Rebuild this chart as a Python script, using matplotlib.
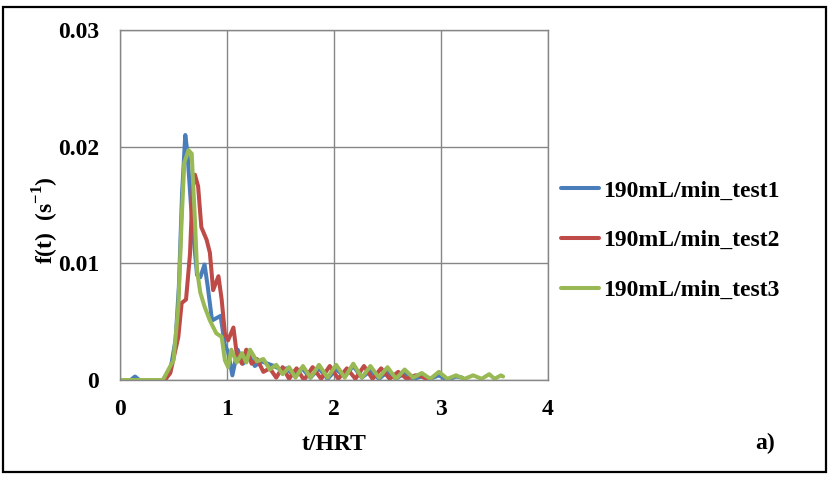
import matplotlib
matplotlib.use("Agg")
import matplotlib.pyplot as plt
from matplotlib.patches import Rectangle

# residence time distribution, three repeat tests at 190 mL/min
t_test1 = [0.00, 0.10, 0.14, 0.18, 0.30, 0.42, 0.47, 0.52, 0.55, 0.58, 0.61, 0.63,
           0.67, 0.72, 0.75, 0.79, 0.82, 0.86, 0.90, 0.94, 0.98, 1.01, 1.05, 1.10,
           1.15, 1.20, 1.26, 1.32, 1.38, 1.44, 1.50, 1.56, 1.62, 1.70, 1.78, 1.86,
           1.94, 2.02, 2.10, 2.18, 2.26, 2.34, 2.42, 2.50, 2.58, 2.66, 2.74, 2.82,
           2.90, 2.98, 3.06, 3.14, 3.20]
f_test1 = [0.0, 0.0, 0.0003, 0.0, 0.0, 0.0, 0.0008, 0.0035, 0.0080, 0.0160, 0.0210, 0.0195,
           0.0140, 0.0090, 0.0088, 0.0099, 0.0080, 0.0051, 0.0053, 0.0055, 0.0030, 0.0024, 0.0004, 0.0026,
           0.0014, 0.0022, 0.0012, 0.0016, 0.0014, 0.0012, 0.0009, 0.0010, 0.0004, 0.0010, 0.0002, 0.0010,
           0.0001, 0.0009, 0.0003, 0.0012, 0.0002, 0.0008, 0.0001, 0.0007, 0.0001, 0.0006, 0.0001, 0.0003,
           0.0001, 0.0004, 0.0000, 0.0003, 0.0002]

t_test2 = [0.00, 0.20, 0.42, 0.47, 0.545, 0.576, 0.617, 0.654, 0.68, 0.70, 0.73, 0.76,
           0.81, 0.84, 0.87, 0.92, 0.95, 0.98, 1.01, 1.06, 1.09, 1.14, 1.18, 1.23,
           1.28, 1.34, 1.40, 1.46, 1.52, 1.58, 1.65, 1.72, 1.80, 1.88, 1.96, 2.04,
           2.12, 2.20, 2.28, 2.36, 2.44, 2.52, 2.60, 2.68, 2.76, 2.80, 2.86, 2.90]
f_test2 = [0.0, 0.0, 0.0, 0.0006, 0.0037, 0.0066, 0.0069, 0.0108, 0.0166, 0.0176, 0.0166, 0.0131,
           0.0120, 0.0109, 0.0077, 0.0089, 0.0069, 0.0040, 0.0034, 0.0045, 0.0023, 0.0014, 0.0026, 0.0014,
           0.0018, 0.0007, 0.0010, 0.0002, 0.0011, 0.0001, 0.0010, 0.0000, 0.0011, 0.0001, 0.0012, 0.0001,
           0.0010, 0.0001, 0.0012, 0.0001, 0.0010, 0.0001, 0.0007, 0.0001, 0.0004, 0.0004, 0.0001, 0.0000]

t_test3 = [0.00, 0.20, 0.40, 0.50, 0.545, 0.576, 0.60, 0.64, 0.67, 0.70, 0.72, 0.75,
           0.79, 0.84, 0.90, 0.95, 0.98, 1.01, 1.04, 1.09, 1.14, 1.18, 1.215, 1.28,
           1.34, 1.40, 1.46, 1.52, 1.58, 1.64, 1.71, 1.78, 1.86, 1.94, 2.02, 2.10,
           2.18, 2.26, 2.34, 2.42, 2.50, 2.58, 2.66, 2.74, 2.82, 2.90, 2.98, 3.06,
           3.14, 3.22, 3.30, 3.38, 3.45, 3.50, 3.56, 3.58]
f_test3 = [0.0, 0.0, 0.0, 0.0017, 0.0063, 0.0137, 0.0186, 0.0197, 0.0194, 0.0137, 0.0094, 0.0075,
           0.0063, 0.0051, 0.0040, 0.0037, 0.0017, 0.0011, 0.0026, 0.0015, 0.0023, 0.0015, 0.0026, 0.0016,
           0.0018, 0.0009, 0.0013, 0.0005, 0.0011, 0.0002, 0.0012, 0.0002, 0.0013, 0.0002, 0.0013, 0.0002,
           0.0014, 0.0002, 0.0012, 0.0002, 0.0011, 0.0001, 0.0009, 0.0002, 0.0006, 0.0001, 0.0007, 0.0001,
           0.0004, 0.0001, 0.0004, 0.0001, 0.0005, 0.0001, 0.0004, 0.0003]

series = [
    (t_test1, f_test1, "190mL/min_test1", "#4A7EBB"),
    (t_test2, f_test2, "190mL/min_test2", "#BE4B48"),
    (t_test3, f_test3, "190mL/min_test3", "#98B954"),
]

plt.rcParams["font.family"] = ["Liberation Serif", "DejaVu Serif"]
plt.rcParams["font.weight"] = "bold"
plt.rcParams["mathtext.fontset"] = "custom"
plt.rcParams["mathtext.rm"] = "Liberation Serif:bold"
plt.rcParams["mathtext.bf"] = "Liberation Serif:bold"

fs = 17

fig = plt.figure(figsize=(8.34, 4.80), dpi=100)
ax = fig.add_axes([0.1439, 0.2083, 0.5132, 0.7292])

for t, f, name, color in series:
    ax.plot(t, f, color=color, lw=2.9, label=name,
            solid_joinstyle="round", solid_capstyle="round")

ax.set_xlim(0, 4)
ax.set_ylim(0, 0.03)
ax.set_xticks([0, 1, 2, 3, 4])
ax.set_yticks([0, 0.01, 0.02, 0.03])
ax.set_yticklabels(["0", "0.01", "0.02", "0.03"])
ax.tick_params(axis="y", length=0, labelsize=fs, pad=15)
ax.tick_params(axis="x", length=0, labelsize=fs, pad=14)
ax.grid(True, color="#868686", lw=1)
ax.set_axisbelow(True)
for sp in ax.spines.values():
    sp.set_color("#868686")
    sp.set_linewidth(1)

ax.set_xlabel("t/HRT", fontsize=fs, fontweight="bold", labelpad=10)
ax.set_ylabel(r"f(t)  (s$^{-1}$)", fontsize=fs, fontweight="bold", labelpad=-2)
ax.yaxis.label.set_y(0.457)

fig.legend(loc="center left", bbox_to_anchor=(0.647, 0.499), frameon=False,
           handlelength=1.6, handletextpad=0.2, labelspacing=1.2,
           prop={"weight": "bold", "size": fs})

fig.text(0.918, 0.077, "a)", fontsize=fs, fontweight="bold", ha="center", va="center")

# frame round the whole figure
fig.patches.append(Rectangle((0.003, 0.017), 0.988, 0.968, transform=fig.transFigure,
                             fill=False, edgecolor="black", lw=1.6))

fig.savefig("out.png", dpi=100)
